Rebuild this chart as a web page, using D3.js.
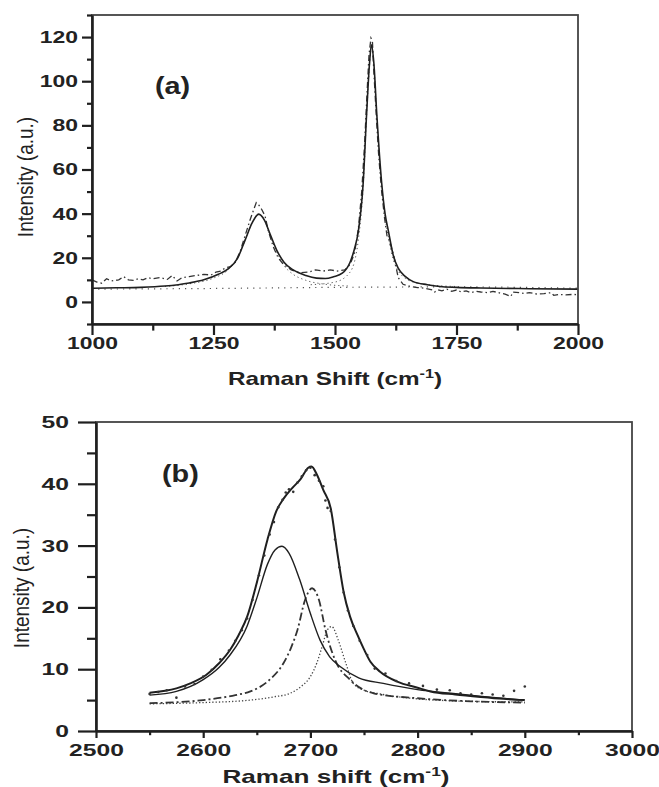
<!DOCTYPE html>
<html>
<head>
<meta charset="utf-8">
<script src="https://cdn.jsdelivr.net/npm/d3@7"></script>
<style>
  body { margin: 0; background: #fff; }
  svg { display: block; }
  text { font-family: 'Liberation Sans', Arial, sans-serif; fill: #222; }
</style>
</head>
<body>
<svg id="chart" width="659" height="787"></svg>
<script>
// ---- panel (a): 1000-2000 cm-1 ----
const aFit = [[1000,6.2],[1050,6.4],[1100,6.6],[1150,7.2],[1200,8.6],[1230,10],[1260,12.5],[1280,15],[1300,20],[1315,28],[1330,36],[1343,39.8],[1355,37],[1366,31],[1380,23.5],[1395,18],[1414,14.5],[1440,12],[1462,10.8],[1480,10.6],[1497,11.4],[1515,13],[1531,18],[1540,24],[1548,32],[1558,54],[1565,85],[1571,108],[1575,116.5],[1580,108],[1586,85],[1596,54],[1603,40],[1610,32],[1620,21],[1630,15.3],[1645,11.5],[1661,9.2],[1690,7.8],[1716,7],[1750,6.6],[1800,6.3],[1900,6.0],[2000,5.8]];
const aRaw = [[1000,10],[1010,9],[1020,8.5],[1030,10.5],[1040,9.5],[1055,10],[1065,11.5],[1075,10],[1085,9.8],[1095,10.5],[1105,10],[1115,11],[1125,10.5],[1140,11],[1155,10.2],[1165,12],[1175,9.5],[1185,11],[1200,11.5],[1215,12],[1230,12.5],[1245,12.2],[1255,13.5],[1265,14],[1275,15.5],[1285,16],[1295,18],[1305,23],[1315,30],[1325,37],[1333,42],[1338,45],[1343,44],[1349,42],[1356,39],[1363,32],[1373,25],[1383,20],[1394,17],[1410,14.5],[1428,13.2],[1445,13.5],[1460,14.5],[1476,14],[1490,14.5],[1505,14],[1520,14.5],[1531,17],[1540,22],[1548,33],[1555,50],[1561,72],[1566,95],[1570,112],[1574,119.5],[1577,118],[1580,104],[1585,84],[1590,66],[1596,50],[1602,38],[1607,30],[1612,28],[1617,24],[1622,20],[1630,11],[1640,8],[1655,7],[1670,6.5],[1685,6.2],[1700,5.5],[1705,4.5],[1712,5.5],[1720,5],[1730,5.8],[1740,4.8],[1750,5.4],[1760,4.5],[1770,5],[1780,4.2],[1790,4.8],[1800,4.5],[1815,4.2],[1825,4.8],[1840,4],[1850,3.5],[1862,2.5],[1866,4.5],[1880,4.2],[1890,3.8],[1900,4.2],[1915,3.6],[1930,3.8],[1945,4.2],[1950,3],[1960,3.4],[1975,3.2],[1990,3.4],[2000,3.3]];
const aBase = [[1000,5.8],[1250,6.1],[1500,6.6],[1750,6.8],[2000,6.2]];
const aDBand = [[1150,7],[1200,8.2],[1250,10.8],[1280,14.5],[1300,20],[1315,28],[1330,36],[1343,39.5],[1356,36.5],[1366,30.5],[1380,22.5],[1395,16.5],[1414,12.5],[1440,9.8],[1480,8],[1530,7.2]];
const aGBand = [[1450,7.8],[1500,9],[1531,13.5],[1548,28],[1558,52],[1565,84],[1571,107],[1575.5,116],[1580,107],[1586,84],[1596,52],[1610,29],[1630,14],[1661,9],[1700,7.6],[1750,7]];
const aXTicks = [1000, 1250, 1500, 1750, 2000];
const aXMinor = [1125, 1375, 1625, 1875];
const aYTicks = [0, 20, 40, 60, 80, 100, 120];
const aYMinor = [-10, 10, 30, 50, 70, 90, 110, 130];

// ---- panel (b): 2D band ----
const bTotal = [[2550,6.2],[2575,6.9],[2588,7.7],[2603,9.1],[2615,11],[2625,13.1],[2633,15.5],[2641,18.5],[2650,24],[2660,31],[2668,35.5],[2675,37.6],[2683,39.3],[2691,40.8],[2698,42.6],[2701,42.8],[2706,41.5],[2712,39],[2719,36],[2725,29],[2731,22.5],[2737,18.5],[2744,15.5],[2750,13.2],[2756,11.2],[2765,9.6],[2781,8],[2800,7],[2812,6.4],[2835,5.9],[2859,5.5],[2880,5.2],[2900,5.0]];
const bPeak1 = [[2550,5.8],[2575,6.4],[2600,8.3],[2615,10.3],[2625,12.3],[2641,17],[2650,21.5],[2660,27],[2667,29.3],[2673.5,29.9],[2680,28.8],[2690,24.5],[2700,19],[2709,14.7],[2718,12],[2728,10.4],[2745,8.6],[2768,7.7],[2800,6.7],[2831,6.1],[2860,5.6],[2899,5.0]];
const bPeak2 = [[2550,4.5],[2600,5],[2630,5.8],[2644,6.4],[2662,8.3],[2675,11],[2682,13.5],[2688,16.4],[2695,21.2],[2701.6,23.1],[2708,21.2],[2714,16.4],[2723,11.5],[2737,8.3],[2759,6.1],[2800,5.3],[2850,4.8],[2900,4.6]];
const bPeak3 = [[2550,4.4],[2600,4.6],[2644,5],[2665,5.5],[2681,6.1],[2692,7.3],[2700,8.8],[2706,11],[2711,13.7],[2716,16.4],[2720,16.9],[2726,14.7],[2733,11],[2740,7.7],[2750,6.6],[2762,6.1],[2800,5.2],[2850,4.8],[2900,4.7]];
const bData = [[2550,6.0],[2558,6.3],[2566,6.6],[2575,5.4],[2583,7.2],[2592,7.6],[2600,8.8],[2608,9.9],[2616,11.6],[2624,13.0],[2630,14.6],[2636,16.3],[2641,18.2],[2646,21.2],[2652,25.2],[2657,28.4],[2662,31.8],[2666,33.8],[2670,36.2],[2674,37.4],[2677,38.6],[2680,39.1],[2684,38.7],[2688,40.2],[2692,41.2],[2696,42.2],[2700,42.6],[2704,41.4],[2708,40.5],[2712,39.6],[2714,37.3],[2716,36.1],[2719,35.6],[2723,31],[2727,26.5],[2731,22.4],[2735,19.5],[2740,17],[2746,14.6],[2753,12.3],[2760,10.1],[2770,9.3],[2780,8.1],[2792,7.7],[2805,7.3],[2818,6.7],[2830,6.6],[2840,6.1],[2850,5.9],[2860,6.1],[2870,5.9],[2880,5.7],[2890,6.5],[2900,7.2]];
const bXTicks = [2500, 2600, 2700, 2800, 2900, 3000];
const bXMinor = [2550, 2650, 2750, 2850, 2950];
const bYTicks = [0, 10, 20, 30, 40, 50];
const bYMinor = [5, 15, 25, 35, 45];

const svg = d3.select('#chart');
const INK = '#1f1f1f';

function panel(o) {
  const x = d3.scaleLinear().domain(o.xDomain).range([o.left, o.right]);
  const y = d3.scaleLinear().domain(o.yDomain).range([o.bottom, o.top]);
  const g = svg.append('g');
  const line = (curve) => d3.line().x(d => x(d[0])).y(d => y(d[1])).curve(curve);

  o.series.forEach(s => {
    g.append('path').datum(s.data).attr('fill', 'none')
      .attr('stroke', s.color || INK).attr('stroke-width', s.width)
      .attr('stroke-dasharray', s.dash || null)
      .attr('d', line(s.smooth ? d3.curveMonotoneX : d3.curveLinear));
  });
  if (o.points) {
    g.selectAll('circle.pt').data(o.points).enter().append('circle')
      .attr('cx', d => x(d[0])).attr('cy', d => y(d[1])).attr('r', 1.3).attr('fill', '#333');
  }

  g.append('rect').attr('x', o.left).attr('y', o.top)
    .attr('width', o.right - o.left).attr('height', o.bottom - o.top)
    .attr('fill', 'none').attr('stroke', '#444').attr('stroke-width', 1.8);

  const s = o.stretch;
  const styleAxis = sel => { sel.select('.domain').attr('stroke', INK).attr('stroke-width', 2.6);
    sel.selectAll('line').attr('stroke', INK).attr('stroke-width', 2.2); };

  const xa = g.append('g').attr('transform', `translate(0,${o.bottom})`)
    .call(d3.axisBottom(x).tickValues(o.xTicks).tickSize(o.xTick).tickSizeOuter(0).tickPadding(o.xPad).tickFormat(d3.format('d')));
  styleAxis(xa);
  xa.selectAll('text').attr('font-size', o.fs).attr('font-weight', 'bold').attr('fill', '#222')
    .attr('transform', `scale(${s},1)`);
  g.append('g').attr('transform', `translate(0,${o.bottom})`)
    .call(d3.axisBottom(x).tickValues(o.xMinor).tickSize(o.xTick * 0.6).tickFormat(''))
    .call(styleAxis).select('.domain').remove();

  const ya = g.append('g').attr('transform', `translate(${o.left},0)`)
    .call(d3.axisLeft(y).tickValues(o.yTicks).tickSize(o.yTick).tickSizeOuter(0).tickFormat(d3.format('d')));
  styleAxis(ya);
  ya.selectAll('text').attr('font-size', o.fs).attr('font-weight', 'bold').attr('fill', '#222')
    .attr('x', -(o.yTick + o.yPad) / s).attr('transform', `scale(${s},1)`);
  g.append('g').attr('transform', `translate(${o.left},0)`)
    .call(d3.axisLeft(y).tickValues(o.yMinor).tickSize(o.yTick * 0.5).tickFormat(''))
    .call(styleAxis).select('.domain').remove();

  const xt = g.append('text').attr('transform', `translate(${o.xTitle[0]},${o.xTitle[1]}) scale(${s},1)`)
    .attr('text-anchor', 'middle').attr('font-size', 18).attr('font-weight', 'bold').text(o.xLabel + ' (cm');
  xt.append('tspan').attr('font-size', 12).attr('dy', -7).text('-1');
  xt.append('tspan').attr('dy', 7).text(')');

  g.append('text').attr('transform', `translate(${o.yTitle[0]},${o.yTitle[1]}) scale(1.2,1) rotate(-90)`)
    .attr('text-anchor', 'middle').attr('dy', '0.35em').attr('font-size', 19).text('Intensity (a.u.)');

  g.append('text').attr('transform', `translate(${o.tag[0]},${o.tag[1]}) scale(1.2,1)`)
    .attr('font-family', "'Liberation Serif', 'Times New Roman', serif").attr('font-weight', 'bold')
    .attr('font-size', 24).text(o.tagText);
}

panel({
  xDomain: [1000, 2000], yDomain: [-10, 130],
  left: 92, right: 578, top: 15, bottom: 324,
  xTicks: aXTicks, xMinor: aXMinor, yTicks: aYTicks, yMinor: aYMinor,
  xTick: 11, xPad: 2, yTick: 10, yPad: 4, stretch: 1.35, fs: 17,
  xLabel: 'Raman Shift', xTitle: [335, 385], yTitle: [25, 177],
  tag: [155, 94], tagText: '(a)',
  series: [
    { data: aBase, width: 1.2, dash: '1.2,5', color: '#555', smooth: true },
    { data: aDBand, width: 1, dash: '1.2,3', color: '#555', smooth: true },
    { data: aGBand, width: 1, dash: '1.2,3', color: '#555', smooth: true },
    { data: aRaw, width: 1.3, dash: '6,3,1.5,3', color: '#333' },
    { data: aFit, width: 1.6, smooth: true }
  ]
});

panel({
  xDomain: [2500, 3000], yDomain: [0, 50],
  left: 96, right: 632, top: 422, bottom: 731,
  xTicks: bXTicks, xMinor: bXMinor, yTicks: bYTicks, yMinor: bYMinor,
  xTick: 7, xPad: 6, yTick: 18, yPad: 9, stretch: 1.45, fs: 17,
  xLabel: 'Raman shift', xTitle: [336, 783], yTitle: [21, 588],
  tag: [162, 482], tagText: '(b)',
  series: [
    { data: bPeak3, width: 1.3, dash: '1.3,2', color: '#444', smooth: true },
    { data: bPeak2, width: 1.8, dash: '8,3,2,3', color: '#333', smooth: true },
    { data: bPeak1, width: 1.4, smooth: true },
    { data: bTotal, width: 2, smooth: true }
  ],
  points: bData
});
</script>
</body>
</html>
